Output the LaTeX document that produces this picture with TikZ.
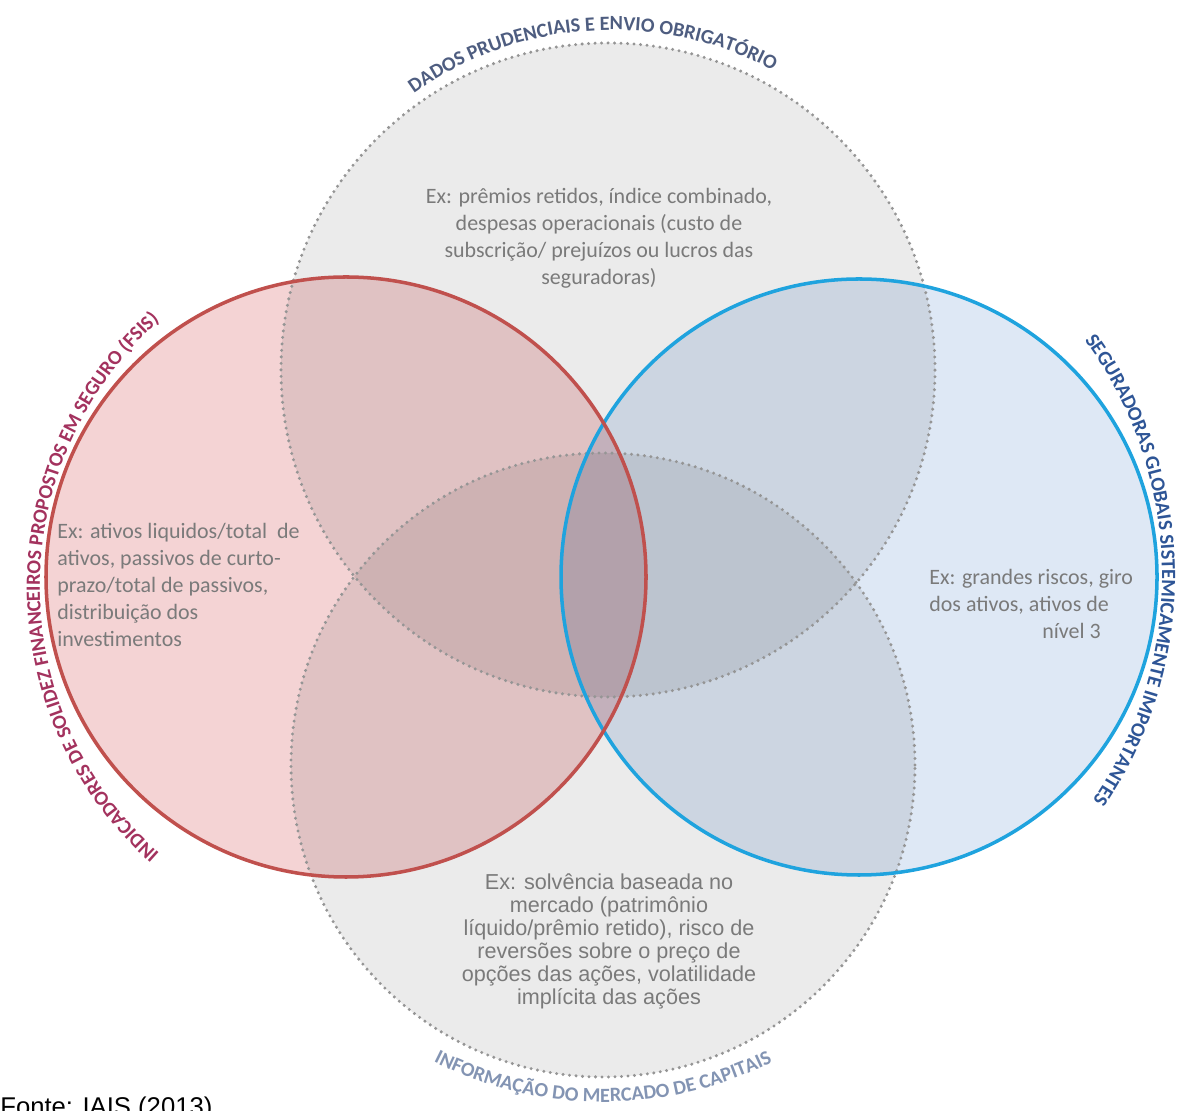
\documentclass[tikz,border=0pt]{standalone}
\usepackage{fontspec}
\setmainfont{Carlito}
\newfontfamily\arialfont{Liberation Sans}
\usepackage{xcolor}
\usetikzlibrary{decorations.text}

\definecolor{venngray}{HTML}{EBEBEB}
\definecolor{vennred}{HTML}{F4D3D4}
\definecolor{vennblue}{HTML}{DEE8F5}
\definecolor{dotgray}{HTML}{959595}
\definecolor{rimred}{HTML}{C0504D}
\definecolor{rimblue}{HTML}{1FA3DE}
\definecolor{notegray}{HTML}{7A7A7A}
\definecolor{lbltop}{HTML}{4E5D80}
\definecolor{lblleft}{HTML}{A3325E}
\definecolor{lblright}{HTML}{2E5596}
\definecolor{lblbottom}{HTML}{8394B3}

\newcommand{\lblfont}{\bfseries\fontsize{11.5}{13}\selectfont}

\begin{document}
\begin{tikzpicture}
	\tikzstyle{dots} = [draw=dotgray, line width=1.9pt, line cap=round, dash pattern=on 0pt off 3.7pt]
	\tikzstyle{rim} = [line width=2pt]
	\tikzstyle{note} = [text=notegray, inner sep=0pt, font=\fontsize{12.5}{15.4}\selectfont]
	\tikzstyle{arclabel} = [decorate, decoration={text along path, text align=center}]
	
	\useasboundingbox (0, 0) rectangle (23.62, 22.2);
	
	\coordinate (c0) at (12.16, 14.80);
	\coordinate (c1) at (12.06, 6.90);
	\coordinate (c2) at (6.92, 10.66);
	\coordinate (c3) at (17.18, 10.66);
	
	\begin{scope}[blend group=multiply]
		\fill[venngray] (c0) circle[radius=6.54cm];
		\fill[venngray] (c1) circle[radius=6.24cm];
		\fill[vennred] (c2) circle[radius=6cm];
		\fill[vennblue] (c3) circle[radius=5.96cm];
	\end{scope}
	
	\draw[dots] (c0) circle[radius=6.54cm];
	\draw[dots] (c1) circle[radius=6.24cm];
	\draw[rim, rimblue] (c3) circle[radius=5.96cm];
	\draw[rim, rimred] (c2) circle[radius=6cm];
	
	% curved titles
	\coordinate (a0) at (12.24, 14.80);
	\coordinate (a1) at (7.94, 10.46);
	\coordinate (a2) at (15.28, 10.68);
	\coordinate (a3) at (12.06, 7.72);
	
	\path[arclabel, decoration={text color=lbltop, text={|\lblfont|DADOS PRUDENCIAIS E ENVIO OBRIGATÓRIO}}]
	(a0) ++(138.7:6.8) arc[start angle=138.7, end angle=48.7, radius=6.8cm];
	\path[arclabel, decoration={text color=lblleft, text={|\lblfont|INDICADORES DE SOLIDEZ FINANCEIROS PROPOSTOS EM SEGURO (FSIS)}}]
	(a1) ++(240:7.14) arc[start angle=240, end angle=120, radius=7.14cm];
	\path[arclabel, decoration={text color=lblright, text={|\lblfont|SEGURADORAS GLOBAIS SISTEMICAMENTE IMPORTANTES}}]
	(a2) ++(50:7.96) arc[start angle=50, end angle=-48, radius=7.96cm];
	\path[arclabel, decoration={text color=lblbottom, text={|\lblfont|INFORMAÇÃO DO MERCADO DE CAPITAIS}}]
	(a3) ++(235:7.56) arc[start angle=235, end angle=305, radius=7.56cm];
	
	\node[note, align=center]			at (11.98, 17.44)	(t0)	{Ex: prêmios retidos, índice combinado,\\despesas operacionais (custo de\\subscrição/ prejuízos ou lucros das\\seguradoras)};
	\node[note, align=left, anchor=west]	at (1.14, 10.50)	(t1)	{Ex: ativos liquidos/total\ \ de\\ativos, passivos de curto-\\prazo/total de passivos,\\distribuição dos\\investimentos};
	\node[note, align=left, anchor=west]	at (18.58, 10.12)	(t2)	{Ex: grandes riscos, giro\\dos ativos, ativos de\\\hspace*{2.26cm}nível 3};
	\node[note, align=center, font=\arialfont\fontsize{12.3}{13.1}\selectfont]
										at (12.18, 3.38)	(t3)	{Ex: solvência baseada no\\mercado (patrimônio\\líquido/prêmio retido), risco de\\reversões sobre o preço de\\opções das ações, volatilidade\\implícita das ações};
	\node[inner sep=0pt, anchor=base west, font=\arialfont\fontsize{14.6}{16}\selectfont]
										at (0, -0.1)		(src)	{Fonte: IAIS (2013)};
\end{tikzpicture}
\end{document}
